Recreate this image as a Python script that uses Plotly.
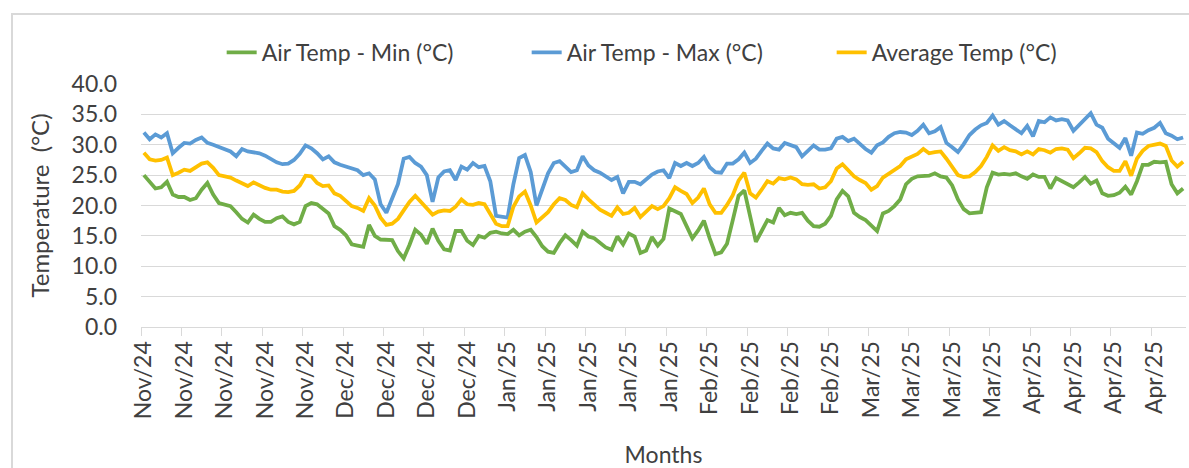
import pandas as pd
import plotly.graph_objects as go

# ---------------- data ----------------
start_date = "2024-11-01"
end_date = "2025-04-30"
dates = pd.date_range(start_date, end_date, freq="D")

air_temp_min = [
    25.0, 23.9, 22.8, 23.0, 23.9, 21.8, 21.4, 21.4, 20.9, 21.2,
    22.6, 23.7, 21.8, 20.4, 20.2, 19.9, 18.9, 17.8, 17.2, 18.5,
    17.8, 17.3, 17.3, 17.9, 18.2, 17.3, 16.9, 17.3, 19.9, 20.4,
    20.2, 19.4, 18.7, 16.6, 16.0, 15.1, 13.6, 13.4, 13.2, 16.8,
    15.0, 14.4, 14.4, 14.3, 12.5, 11.3, 13.5, 16.0, 15.2, 13.7,
    16.2, 14.2, 12.8, 12.6, 15.8, 15.8, 14.2, 13.5, 15.0, 14.7,
    15.5, 15.7, 15.4, 15.3, 16.0, 15.1, 15.7, 16.0, 14.8, 13.3,
    12.4, 12.2, 13.8, 15.1, 14.3, 13.4, 15.7, 14.9, 14.6, 13.8,
    13.1, 12.7, 14.9, 13.6, 15.4, 14.9, 12.2, 12.6, 14.8, 13.4,
    14.5, 19.5, 19.0, 18.6, 16.6, 14.6, 15.9, 17.5, 14.6, 12.0,
    12.3, 13.7, 17.6, 21.6, 22.5, 18.3, 14.0, 15.8, 17.6, 17.2,
    19.6, 18.4, 18.8, 18.6, 18.8, 17.5, 16.6, 16.5, 17.0, 18.3,
    21.0, 22.4, 21.5, 18.8, 18.1, 17.6, 16.6, 15.8, 18.7, 19.1,
    19.9, 21.0, 23.5, 24.4, 24.8, 24.9, 24.9, 25.3, 24.8, 24.6,
    23.3, 21.0, 19.4, 18.7, 18.8, 18.9, 23.0, 25.4, 25.1, 25.2,
    25.1, 25.3, 24.8, 24.4, 25.1, 24.7, 24.7, 22.8, 24.5, 24.0,
    23.5, 23.0, 23.8, 24.7, 23.6, 24.1, 22.0, 21.6, 21.7, 22.1,
    23.1, 21.8, 24.0, 26.7, 26.7, 27.2, 27.1, 27.2, 23.5, 22.0,
    22.8,
]

air_temp_max = [
    32.0, 30.9, 31.7, 31.2, 31.9, 28.6, 29.5, 30.3, 30.2, 30.8,
    31.2, 30.3, 30.0, 29.6, 29.2, 28.9, 28.1, 29.3, 28.9, 28.8,
    28.6, 28.2, 27.7, 27.1, 26.8, 26.9, 27.5, 28.5, 29.9, 29.4,
    28.6, 27.6, 28.1, 27.1, 26.7, 26.4, 26.1, 25.8, 25.0, 25.3,
    24.3, 20.2, 18.8, 21.0, 23.5, 27.7, 28.0, 27.0, 26.4, 25.0,
    20.6, 24.6, 25.6, 25.8, 24.2, 26.4, 25.9, 27.0, 26.3, 26.5,
    24.0, 18.3, 18.2, 18.0, 23.5, 27.8, 28.3, 25.5, 20.0, 22.8,
    25.3, 27.0, 27.3, 26.4, 25.5, 25.8, 28.1, 26.6, 25.8, 25.4,
    24.8, 24.2, 24.7, 22.0, 23.9, 23.9, 23.5, 24.3, 25.1, 25.6,
    25.8, 24.5, 27.0, 26.5, 27.0, 26.5, 27.0, 28.0, 26.3, 25.5,
    25.4, 26.9, 26.9, 27.6, 28.7, 27.0, 27.7, 29.0, 30.2, 29.4,
    29.2, 30.3, 29.9, 29.6, 28.1, 29.0, 29.9, 29.2, 29.2, 29.4,
    31.0, 31.3, 30.6, 31.0, 30.1, 29.3, 28.7, 29.9, 30.4, 31.3,
    31.9, 32.1, 32.0, 31.6, 32.3, 33.3, 31.9, 32.2, 32.9, 30.3,
    29.6, 28.8, 30.1, 31.6, 32.5, 33.2, 33.6, 34.8, 33.3, 33.9,
    33.2, 32.5, 31.9, 33.1, 31.4, 33.9, 33.7, 34.5, 34.0, 34.2,
    34.0, 32.3, 33.3, 34.2, 35.2, 33.3, 32.8, 31.0, 30.3, 29.5,
    31.1, 28.2, 32.0, 31.8, 32.4, 32.8, 33.6, 31.9, 31.5, 30.9,
    31.2,
]

average_temp = [
    28.7, 27.6, 27.4, 27.5, 27.9, 25.0, 25.4, 25.9, 25.7, 26.3,
    26.9, 27.1, 26.2, 25.0, 24.8, 24.6, 24.1, 23.6, 23.2, 23.8,
    23.3, 22.9, 22.6, 22.6, 22.3, 22.2, 22.4, 23.3, 24.9, 24.8,
    23.7, 23.2, 23.3, 22.0, 21.6, 20.8, 19.9, 19.6, 19.1, 21.2,
    20.0, 18.0, 16.8, 17.0, 17.8, 19.2, 20.6, 21.6, 20.6, 19.4,
    18.5, 19.0, 19.2, 19.1, 19.8, 21.0, 20.2, 20.1, 20.4, 20.2,
    18.5, 17.0, 16.6, 16.6, 19.8, 21.5, 22.3, 20.0, 17.2, 18.0,
    18.9, 20.2, 21.2, 20.9, 20.1, 19.7, 22.0, 21.0, 20.2, 19.3,
    18.8, 18.3, 19.7, 18.6, 18.8, 19.6, 18.1, 19.0, 19.9, 19.4,
    19.9, 21.2, 23.0, 22.4, 21.9, 20.4, 21.3, 22.8, 20.2, 18.8,
    18.8, 20.1, 21.7, 24.1, 25.4, 22.0, 21.3, 22.6, 24.0, 23.6,
    24.5, 24.3, 24.6, 24.3, 23.5, 23.4, 23.5, 22.8, 23.0, 24.0,
    26.1, 26.8, 25.9, 24.8, 24.2, 23.7, 22.6, 23.2, 24.6, 25.2,
    25.9, 26.5, 27.6, 28.1, 28.5, 29.3, 28.6, 28.8, 28.9, 27.7,
    26.4, 25.0, 24.7, 24.8, 25.5, 26.5, 28.0, 29.9, 29.0, 29.6,
    29.1, 28.9, 28.4, 28.9, 28.4, 29.3, 29.1, 28.7, 29.3, 29.4,
    29.2, 27.8, 28.6, 29.5, 29.4, 28.8, 27.3, 26.3, 25.7, 25.7,
    27.3, 24.9, 27.7, 29.0, 29.8, 30.0, 30.2, 29.8, 27.4, 26.4,
    27.2,
]

series_names = ["Air Temp - Min (°C)", "Air Temp - Max (°C)", "Average Temp (°C)"]
series_colors = ["#70AD47", "#5B9BD5", "#FFC000"]

label_step = 7
tick_dates = list(dates[::label_step])
tick_labels = [d.strftime("%b/%y") for d in tick_dates]
half_day = pd.Timedelta(hours=12)
boundary_dates = [d - half_day for d in tick_dates]

y_ticks = [0, 5, 10, 15, 20, 25, 30, 35, 40]

# ---------------- figure ----------------
FONT = "Lato"
FS = 23
TEXT_COLOR = "#404040"
GRID = "#d9d9d9"

fig = go.Figure()
for name, vals, col in zip(series_names, [air_temp_min, air_temp_max, average_temp], series_colors):
    fig.add_trace(go.Scatter(
        x=dates, y=vals, name=name, mode="lines",
        line=dict(color=col, width=3.8),
    ))

fig.update_layout(
    width=1189, height=468,
    margin=dict(l=141, r=3, t=84, b=141, autoexpand=False),
    paper_bgcolor="white", plot_bgcolor="white",
    font=dict(family=FONT, size=FS, color=TEXT_COLOR),
    showlegend=True,
    legend=dict(
        orientation="h", x=0.515, xanchor="center", y=1.13, yanchor="middle",
        font=dict(family=FONT, size=FS, color=TEXT_COLOR),
        entrywidth=260, entrywidthmode="pixels",
        bgcolor="rgba(0,0,0,0)",
    ),
    shapes=[dict(
        type="rect", xref="paper", yref="paper",
        x0=(12 - 141) / 1045, x1=1.2, y0=-1.0, y1=(327 - 14) / 243,
        line=dict(color=GRID, width=2), layer="below",
    )],
)

fig.update_xaxes(
    range=[dates[0] - half_day, dates[-1] + half_day],
    tickmode="array", tickvals=tick_dates, ticktext=tick_labels,
    tickangle=-90, ticks="", ticklabelstandoff=4,
    tickfont=dict(family=FONT, size=FS, color=TEXT_COLOR),
    showgrid=False, zeroline=False,
    showline=True, linecolor=GRID, linewidth=1,
    minor=dict(tickmode="array", tickvals=boundary_dates, ticks="outside",
               ticklen=8, tickcolor=GRID, tickwidth=1, showgrid=False),
    title=dict(text="Months", font=dict(family=FONT, size=FS, color=TEXT_COLOR), standoff=29),
)

fig.update_yaxes(
    range=[0, 40], tickmode="array", tickvals=y_ticks, tickformat=".1f",
    ticks="", ticklabelstandoff=23,
    tickfont=dict(family=FONT, size=FS, color=TEXT_COLOR),
    showgrid=True, gridcolor=GRID, gridwidth=1, zeroline=False, showline=False,
    title=dict(text="Temperature \u00a0(°C)", font=dict(family=FONT, size=24, color=TEXT_COLOR), standoff=15),
)

fig.write_html(
    "out.html",
    config={"displayModeBar": False},
    post_script="document.body.style.margin='0';document.body.style.padding='0';",
)
